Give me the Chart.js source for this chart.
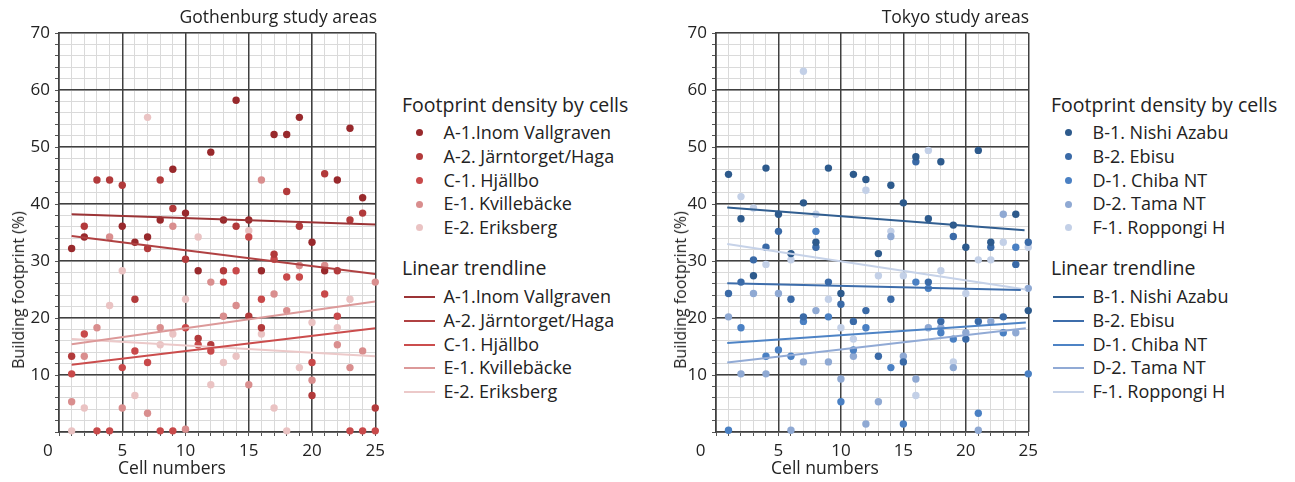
<!DOCTYPE html>
<html>
<head>
  <meta charset="utf-8">
  <title>Building footprint by cells</title>
  <script src="https://cdn.jsdelivr.net/npm/chart.js"></script>
  <style>
    body {
      margin: 0;
      background: #fff;
      font-family: "Open Sans", sans-serif;
      color: #222;
    }
    #wrap {
      position: relative;
      width: 1295px;
      height: 482px;
      overflow: hidden;
    }
    canvas { position: absolute; top: 0; }
    .ptitle {
      position: absolute;
      top: 6px;
      font-size: 17.5px;
      line-height: 20px;
      text-align: right;
      white-space: nowrap;
    }
    .xlab, .ylab {
      position: absolute;
      font-size: 17.5px;
      white-space: nowrap;
      transform: translate(-50%, -50%);
    }
    .ylab {
      font-size: 16px;
      transform: translate(-50%, -50%) rotate(-90deg);
    }
    .legend {
      position: absolute;
      top: 91px;
      white-space: nowrap;
    }
    .legend .lt {
      font-size: 19.5px;
      line-height: 28px;
      margin-bottom: 2px;
    }
    .legend .lt2 { margin-top: 14.25px; margin-bottom: 3.1px; }
    .legend .li {
      position: relative;
      font-size: 18px;
      line-height: 23.75px;
      padding-left: 41.5px;
    }
    .legend .dot {
      position: absolute;
      left: 14px;
      top: 8.4px;
      width: 7px;
      height: 7px;
      border-radius: 50%;
    }
    .legend .ln {
      position: absolute;
      left: 2px;
      top: 11px;
      width: 31px;
      height: 2px;
    }
  </style>
</head>
<body>
  <div id="wrap">
    <canvas id="gbgChart" width="390" height="482" style="left:0px"></canvas>
    <canvas id="tkyChart" width="386" height="482" style="left:657px"></canvas>

    <div class="ptitle" style="right:918px">Gothenburg study areas</div>
    <div class="ptitle" style="right:266px">Tokyo study areas</div>

    <div class="ylab" style="left:17.5px; top:290px">Building footprint (%)</div>
    <div class="ylab" style="left:679.5px; top:290px">Building footprint (%)</div>
    <div class="xlab" style="left:172px; top:467px">Cell numbers</div>
    <div class="xlab" style="left:825px; top:467px">Cell numbers</div>

    <div class="legend" id="gbgLegend" style="left:402px"></div>
    <div class="legend" id="tkyLegend" style="left:1051px"></div>
  </div>

  <script>
    // cell numbers on the x axis
    const cells = [1, 2, 3, 4, 5, 6, 7, 8, 9, 10, 11, 12, 13, 14, 15, 16, 17, 18, 19, 20, 21, 22, 23, 24, 25];
    const xMajor = [5, 10, 15, 20, 25];
    const yMajor = [10, 20, 30, 40, 50, 60, 70];

    // Gothenburg, footprint density per cell (%)
    const gbgNames = ['A-1.Inom Vallgraven', 'A-2. Järntorget/Haga', 'C-1. Hjällbo', 'E-1. Kvillebäcke', 'E-2. Eriksberg'];
    const gbgA1 = [32.2, 34.2, null, null, 36.1, 33.3, 34.2, 37.2, 46.1, 38.4, 28.3, 49.1, 37.2, 58.2, 37.2, 28.3, 52.2, 52.2, 55.2, 33.3, 28.3, 44.2, 53.3, 41.1, null];
    const gbgA2 = [13.3, 36.1, 44.2, 44.2, 43.3, 23.3, 32.2, 44.2, 39.2, 30.3, 16.4, 15.3, 28.3, 36.1, 20.3, 18.3, 31.2, 42.2, 36.1, 6.4, 45.3, 28.3, 37.2, 38.4, 4.2];
    const gbgC1 = [10.2, 17.2, 0.2, 0.2, 11.3, 14.2, 12.2, 0.2, 0.2, 18.3, 15.3, 14.2, 26.3, 28.3, 34.2, 23.3, 30.3, 27.2, 27.2, 12.2, 24.2, 20.3, 0.2, 0.2, 0.2];
    const gbgE1 = [5.3, 13.3, 18.3, 34.2, 4.2, null, 3.3, 18.3, 36.1, 0.5, null, 26.3, 20.3, 22.2, 8.3, 44.2, 24.2, 21.3, 29.2, 9.1, 29.2, 15.3, 11.3, 14.2, 26.3];
    const gbgE2 = [0.2, 4.2, null, 22.2, 28.3, 6.4, 55.2, 15.3, 17.2, 23.3, 34.2, 8.3, 12.2, 13.3, 35.3, 17.2, 4.2, 0.2, 11.3, 19.2, null, 18.3, 23.3, null, null];
    // linear trendlines: value at first and last cell
    const gbgTrendX = [1, 25];
    const gbgTrendStart = [38.2, 34.4, 11.8, 15.4, 16.3];
    const gbgTrendEnd = [36.4, 27.7, 18.2, 22.9, 13.3];

    // Tokyo, footprint density per cell (%)
    const tkyNames = ['B-1. Nishi Azabu', 'B-2. Ebisu', 'D-1. Chiba NT', 'D-2. Tama NT', 'F-1. Roppongi H'];
    const tkyB1 = [45.2, 37.4, 27.4, 46.3, 38.2, 31.3, 40.2, 33.3, 46.3, 24.3, 45.2, 44.3, 31.3, 43.3, 40.2, 48.3, 37.4, 47.4, 36.3, 32.4, 49.4, 33.3, null, 38.2, 21.3];
    const tkyB2 = [24.3, 26.3, 30.2, 32.4, 35.2, 23.3, 20.2, 32.4, 26.3, 22.4, 19.4, 21.3, 13.3, 23.3, 12.3, 47.4, 26.3, 19.4, 34.3, 16.3, 19.4, 32.4, 20.2, 29.4, 33.3];
    const tkyD1 = [0.3, 18.3, null, 13.3, 14.4, 13.3, 19.4, 35.2, 20.2, 5.3, 14.4, 18.3, null, 11.3, 1.4, 26.3, 25.2, 17.4, 16.3, null, 3.3, null, 17.4, 32.4, 10.2];
    const tkyD2 = [20.2, 10.2, 24.3, 10.2, 24.3, 0.3, 12.3, 21.3, 12.3, 9.3, 13.3, 1.4, 5.3, 34.3, 13.3, 9.3, 18.3, 18.3, 11.3, 17.4, 0.3, 19.4, 38.2, 17.4, 25.2];
    const tkyF1 = [null, 41.3, 39.3, 29.4, null, 30.2, 63.3, 38.2, 23.3, 18.3, 16.3, 42.4, 27.4, 35.2, 27.4, 6.4, 49.4, 28.3, 12.3, 24.3, 30.2, 30.2, 33.3, null, 32.4];
    const tkyTrendStartX = [0.9, 0.9, 0.9, 0.9, 0.9];
    const tkyTrendEndX = [24.7, 24.4, 24.8, 24.8, 24.8];
    const tkyTrendStart = [39.4, 26.1, 15.6, 12.2, 33.0];
    const tkyTrendEnd = [35.4, 24.9, 19.2, 18.2, 25.0];

    const gbgDots  = ['#98292c', '#b23a3b', '#c8494a', '#d98e8e', '#eac3c3'];
    const gbgLines = ['#9c3436', '#b04142', '#cb4d4d', '#dc9999', '#ecc9c9'];
    const tkyDots  = ['#2d5a8c', '#3a6aa7', '#4a80c3', '#8fa9d3', '#c3d0e7'];
    const tkyLines = ['#315e90', '#3d6dab', '#4d83c5', '#91aad5', '#c6d2e8'];

    const FONT = '"Open Sans", sans-serif';
    const MAJOR = '#404040';
    const MINOR = '#dadada';

    function buildLegend(el, names, dots, lines) {
      let html = '<div class="lt">Footprint density by cells</div>';
      names.forEach((n, i) => {
        html += `<div class="li"><span class="dot" style="background:${dots[i]}"></span>${n}</div>`;
      });
      html += '<div class="lt lt2">Linear trendline</div>';
      names.forEach((n, i) => {
        html += `<div class="li"><span class="ln" style="background:${lines[i]}"></span>${n}</div>`;
      });
      el.innerHTML = html;
    }

    // a second pair of scales only draws the heavy grid lines above the light ones
    function majorGrid(pos, max, step) {
      return {
        type: 'linear',
        position: pos,
        min: 0,
        max: max,
        z: 0,
        afterFit: s => { if (pos === 'left') s.width = 0; else s.height = 0; },
        border: { display: false },
        grid: { color: MAJOR, lineWidth: 1.5, drawTicks: false },
        ticks: { stepSize: step, display: false }
      };
    }

    function makePanel(id, names, series, dots, lines, tStartX, tEndX, tStart, tEnd, rightPad, zeroLabel) {
      const datasets = [];
      series.forEach((vals, i) => {
        const pts = [];
        cells.forEach((c, j) => { if (vals[j] !== null) pts.push({ x: c, y: vals[j] }); });
        datasets.push({
          label: names[i],
          data: pts,
          xAxisID: 'x',
          yAxisID: 'y',
          backgroundColor: dots[i],
          borderWidth: 0,
          pointRadius: 3.7,
          clip: false,
          order: 2
        });
      });
      names.forEach((n, i) => {
        datasets.push({
          label: n + ' trendline',
          data: [{ x: tStartX[i], y: tStart[i] }, { x: tEndX[i], y: tEnd[i] }],
          xAxisID: 'x',
          yAxisID: 'y',
          showLine: true,
          borderColor: lines[i],
          borderWidth: 2,
          pointRadius: 0,
          fill: false,
          order: 1
        });
      });

      return new Chart(document.getElementById(id), {
        type: 'scatter',
        data: { datasets },
        options: {
          responsive: false,
          animation: false,
          devicePixelRatio: 1,
          layout: { padding: { left: 0, right: rightPad, top: 33, bottom: 0 } },
          plugins: { legend: { display: false }, tooltip: { enabled: false } },
          scales: {
            x: {
              type: 'linear',
              position: 'bottom',
              min: 0,
              max: 25,
              z: -1,
              afterFit: s => { s.height = 50; },
              border: { color: MAJOR, width: 1.5 },
              grid: {
                color: MINOR,
                lineWidth: 1,
                tickLength: 4,
                tickColor: '#555'
              },
              ticks: {
                stepSize: 1,
                autoSkip: false,
                maxRotation: 0,
                padding: 5,
                color: '#222',
                font: { family: FONT, size: 17 },
                callback: v => (v === 0 ? zeroLabel : (xMajor.includes(v) ? String(v) : ''))
              }
            },
            y: {
              type: 'linear',
              position: 'left',
              min: 0,
              max: 70,
              z: -1,
              afterFit: s => { s.width = 59; },
              border: { color: MAJOR, width: 1.5 },
              grid: {
                color: MINOR,
                lineWidth: 1,
                tickLength: 4,
                tickColor: '#555'
              },
              ticks: {
                stepSize: 2,
                autoSkip: false,
                padding: 5,
                color: '#222',
                font: { family: FONT, size: 17 },
                callback: v => (yMajor.includes(v) ? String(v) : '')
              }
            },
            xMaj: majorGrid('bottom', 25, 5),
            yMaj: majorGrid('left', 70, 10)
          }
        }
      });
    }

    buildLegend(document.getElementById('gbgLegend'), gbgNames, gbgDots, gbgLines);
    buildLegend(document.getElementById('tkyLegend'), tkyNames, tkyDots, tkyLines);

    makePanel('gbgChart', gbgNames, [gbgA1, gbgA2, gbgC1, gbgE1, gbgE2], gbgDots, gbgLines,
      [gbgTrendX[0], gbgTrendX[0], gbgTrendX[0], gbgTrendX[0], gbgTrendX[0]],
      [gbgTrendX[1], gbgTrendX[1], gbgTrendX[1], gbgTrendX[1], gbgTrendX[1]],
      gbgTrendStart, gbgTrendEnd, 12, '0     ');

    makePanel('tkyChart', tkyNames, [tkyB1, tkyB2, tkyD1, tkyD2, tkyF1], tkyDots, tkyLines,
      tkyTrendStartX, tkyTrendEndX, tkyTrendStart, tkyTrendEnd, 12, '0       ');
  </script>
</body>
</html>
